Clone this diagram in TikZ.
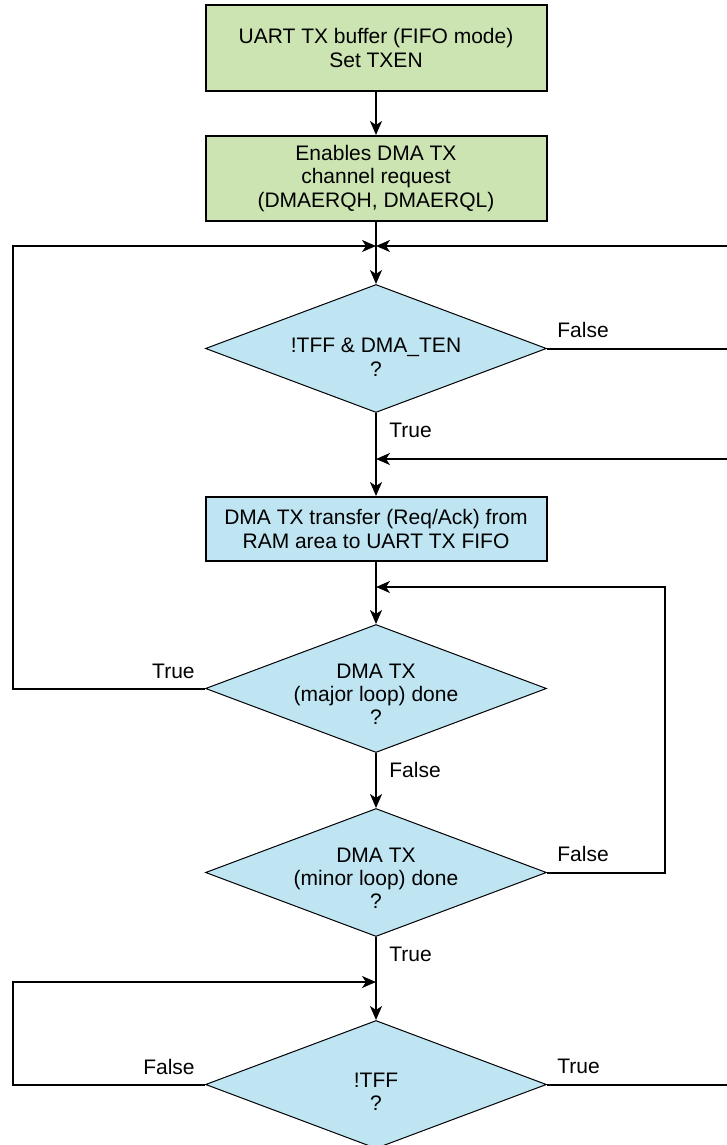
\documentclass[tikz,border=0pt]{standalone}
\usepackage{fontspec}
\setmainfont{Liberation Sans}
\usetikzlibrary{positioning,shapes.geometric,arrows.meta}
\definecolor{procgreen}{RGB}{204,228,178}
\definecolor{procblue}{RGB}{191,229,242}

\begin{document}
\begin{tikzpicture}[
  x=0.5pt, y=-0.5pt,
  font=\fontsize{10.5}{11.6}\selectfont,
  procbox/.style={draw,line width=1pt,minimum width=170.5pt,align=center,inner sep=0pt},
  decision/.style={draw,diamond,shape aspect=2.66,line width=0.5pt,fill=procblue,
    minimum width=170.5pt,minimum height=64pt,inner sep=-4pt,align=center},
  flow/.style={line width=1pt,-{Stealth[length=7pt,width=6pt,inset=2pt]}},
  conn/.style={line width=1pt},
  lbl/.style={inner sep=0pt},
  lblright/.style={lbl,anchor=base west,xshift=5pt,yshift=5.5pt},
  lblleft/.style={lbl,anchor=base east,xshift=-5pt,yshift=5pt},
  lblbelow/.style={lbl,anchor=base west,xshift=6.5pt,yshift=-12pt}
]
\useasboundingbox (0,0) rectangle (727,1145);

% main column
\node[procbox,fill=procgreen,minimum height=43pt] (b1) at (376,48) {UART TX buffer (FIFO mode)\\Set TXEN};
\node[procbox,fill=procgreen,minimum height=42.5pt,below=21.5pt of b1] (b2) {Enables DMA TX\\channel request\\(DMAERQH, DMAERQL)};
\node[decision,text height=27.5pt,below=31pt of b2] (d1) {!TFF \& DMA\_TEN\\?};
\node[procbox,fill=procblue,minimum height=32pt,below=41.5pt of d1] (b3) {DMA TX transfer (Req/Ack) from\\RAM area to UART TX FIFO};
\node[decision,text height=36pt,below=31pt of b3] (d2) {DMA TX\\(major loop) done\\?};
\node[decision,text height=36pt,below=27.5pt of d2] (d3) {DMA TX\\(minor loop) done\\?};
\node[decision,text height=26pt,below=41.5pt of d3] (d4) {!TFF\\?};

% junctions and loop columns
\coordinate[above=19pt of d1.north] (j1);
\coordinate[above=18.5pt of b3.north] (j2);
\coordinate[above=18.5pt of d2.north] (j3);
\coordinate[above=19pt of d4.north] (j4);
\coordinate (L) at (13,0);
\coordinate (M) at (665,0);
\coordinate (R) at (727,0);

\draw[flow] (b1) -- (b2);
\draw[conn] (b2) -- (j1);
\draw[flow] (j1) -- (d1);
\draw[flow] (R |- j1) -- (j1);
\draw[flow] (d2.west) -- (d2.west -| L) |- (j1);
\draw[conn] (d1.east) -- (d1.east -| R);
\draw[conn] (d1) -- (j2);
\draw[flow] (R |- j2) -- (j2);
\draw[flow] (j2) -- (b3);
\draw[conn] (b3) -- (j3);
\draw[flow] (j3) -- (d2);
\draw[flow] (d3.east) -- (d3.east -| M) |- (j3);
\draw[flow] (d2) -- (d3);
\draw[conn] (d3) -- (j4);
\draw[flow] (j4) -- (d4);
\draw[flow] (d4.west) -- (d4.west -| L) |- (j4);
\draw[conn] (d4.east) -- (d4.east -| R);

% branch labels
\node[lblright] (f1) at (d1.east) {False};
\node[lblbelow] (t1) at (d1.south) {True};
\node[lblleft] (t2) at (d2.west) {True};
\node[lblbelow] (f2) at (d2.south) {False};
\node[lblright] (f3) at (d3.east) {False};
\node[lblbelow] (t3) at (d3.south) {True};
\node[lblleft] (f4) at (d4.west) {False};
\node[lblright] (t4) at (d4.east) {True};
\end{tikzpicture}
\end{document}
